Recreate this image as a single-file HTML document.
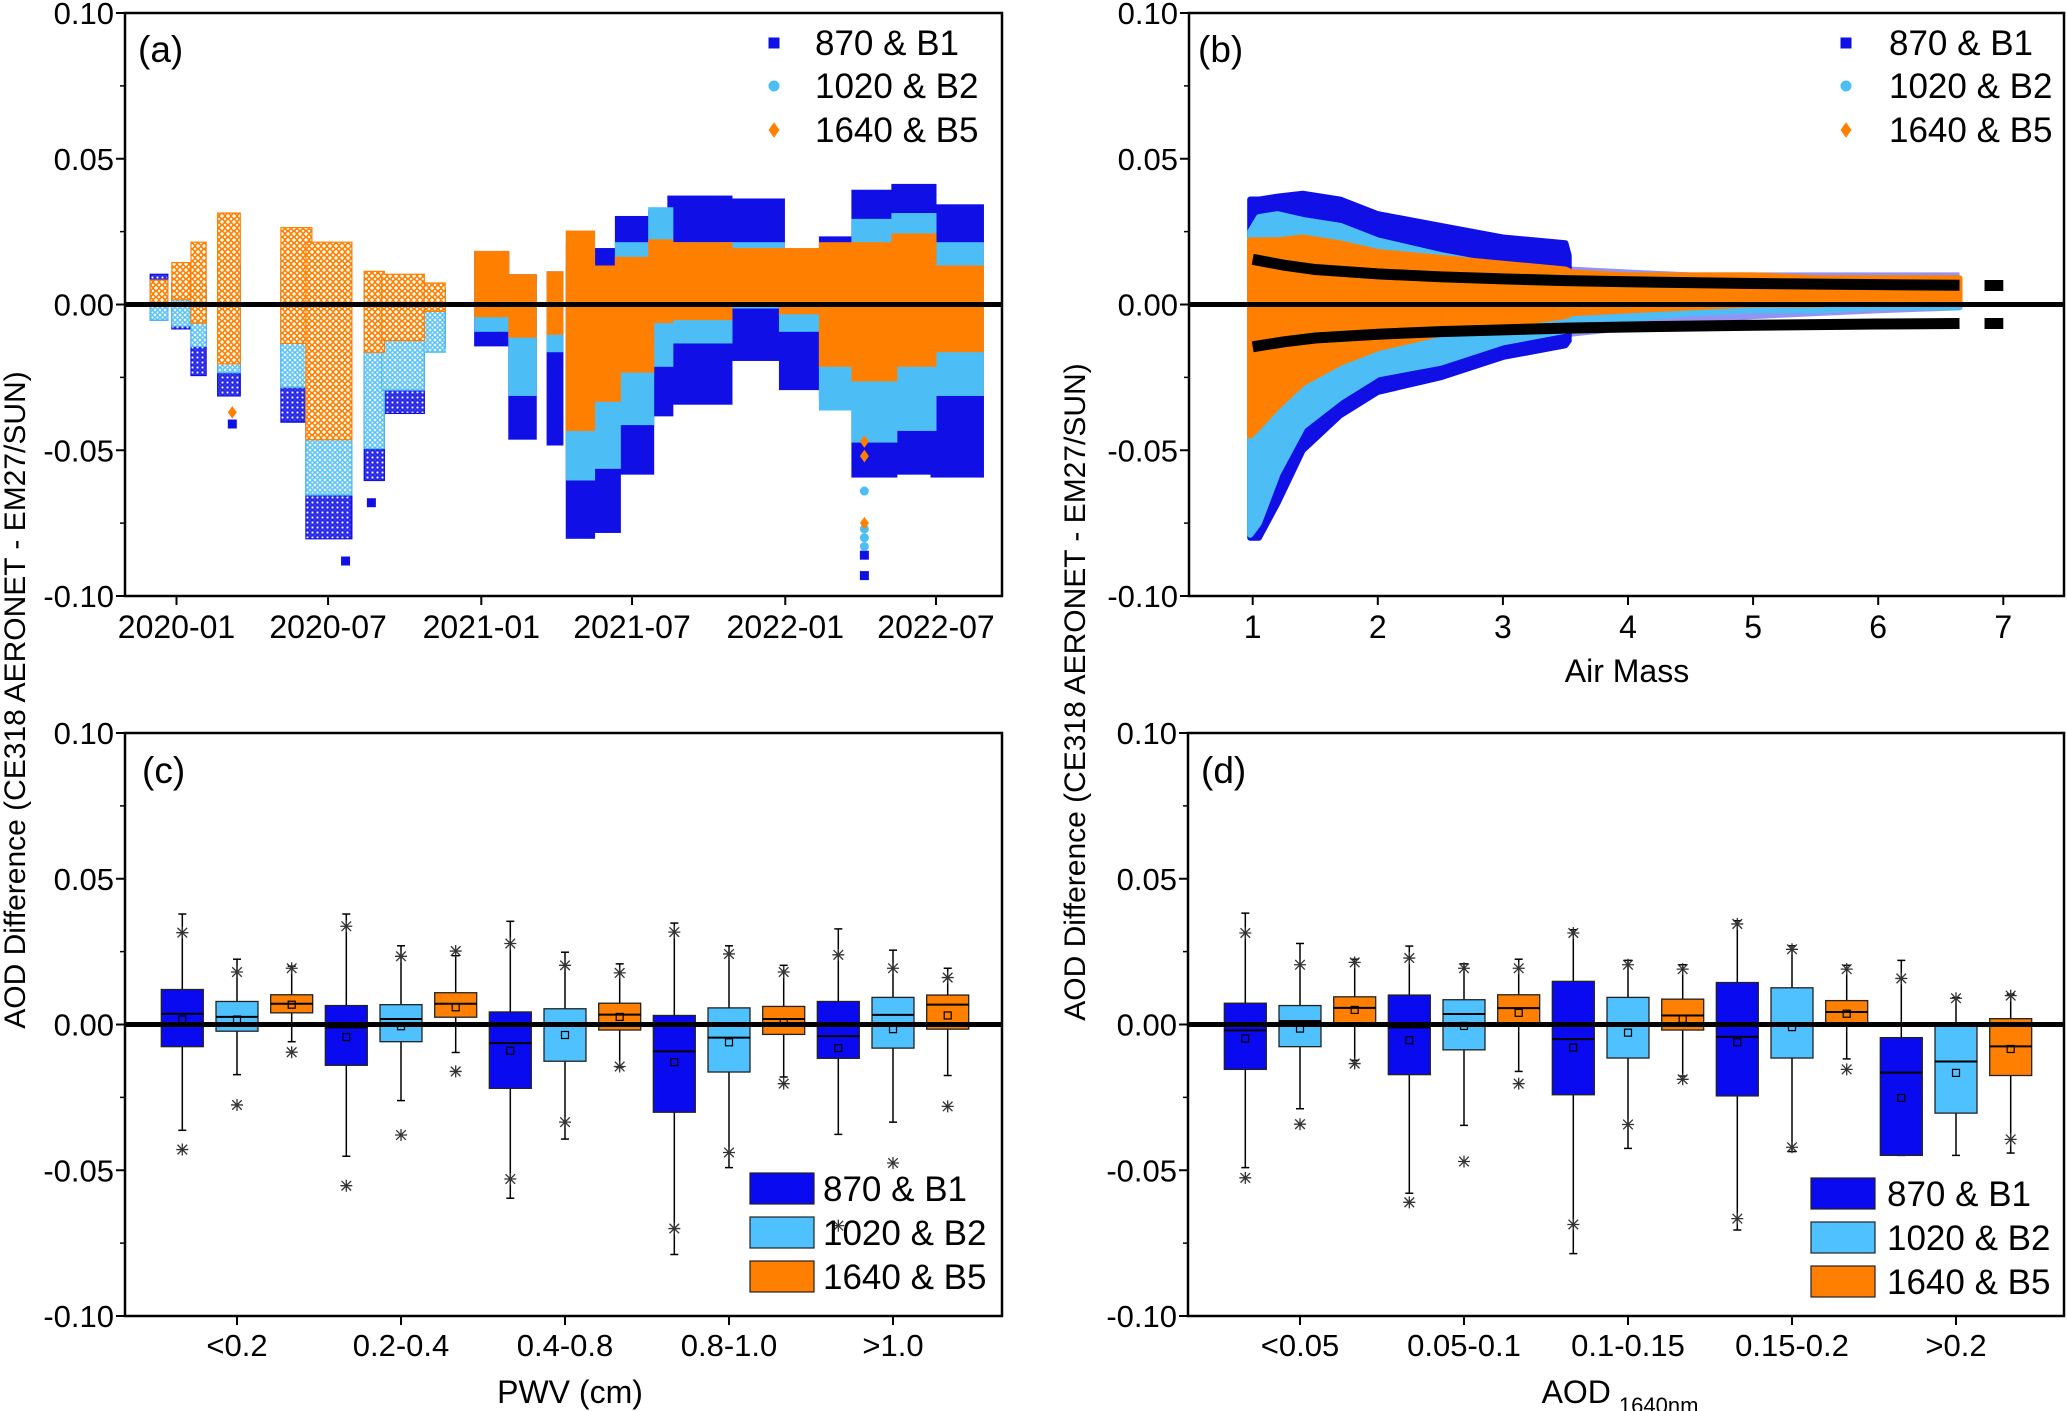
<!DOCTYPE html>
<html><head><meta charset="utf-8"><style>
html,body{margin:0;padding:0;background:#fff;}
svg{display:block;font-family:"Liberation Sans",Arial,sans-serif;}
</style></head><body>
<svg id="fig" width="2067" height="1411" viewBox="0 0 2067 1411" xmlns="http://www.w3.org/2000/svg">
<defs>
<pattern id="patBlue" width="5" height="5" patternUnits="userSpaceOnUse"><rect x="0" y="0" width="5" height="5" fill="#fff"/><rect x="0.8" y="0.8" width="3.4" height="3.4" fill="none" stroke="#1010e6" stroke-width="1.4"/></pattern>
<pattern id="patLight" width="5" height="5" patternUnits="userSpaceOnUse"><rect x="0" y="0" width="5" height="5" fill="#fff"/><circle cx="2.5" cy="2.5" r="1.8" fill="none" stroke="#4dbef5" stroke-width="1.4"/></pattern>
<pattern id="patOrange" width="6" height="6" patternUnits="userSpaceOnUse"><rect x="0" y="0" width="6" height="6" fill="#fff"/><path d="M3 0.3 L5.7 3 L3 5.7 L0.3 3 Z" fill="none" stroke="#ff8000" stroke-width="1.6"/></pattern>
</defs>
<text x="17" y="700" transform="rotate(-90 17 700)" text-anchor="middle" dominant-baseline="middle" font-size="30" fill="#000">AOD Difference (CE318 AERONET - EM27/SUN)</text>
<text x="1077" y="692" transform="rotate(-90 1077 692)" text-anchor="middle" dominant-baseline="middle" font-size="30" fill="#000">AOD Difference (CE318 AERONET - EM27/SUN)</text>
</svg>
<script>
// ---------- Panel (a) data: time bins with low/high envelopes ----------
const binStart = ["2019-12-04","2019-12-30","2020-01-22","2020-02-23","2020-05-09","2020-06-08","2020-08-17","2020-09-07","2020-10-28","2020-12-27","2021-02-06","2021-03-24","2021-04-16","2021-05-14","2021-06-14","2021-07-24","2021-08-16","2021-10-26","2021-12-28","2022-02-14","2022-03-25","2022-05-12","2022-06-28"];
const binEnd   = ["2019-12-18","2020-01-14","2020-02-02","2020-03-14","2020-06-08","2020-07-26","2020-09-03","2020-10-21","2020-11-15","2021-01-31","2021-03-05","2021-04-06","2021-05-14","2021-06-14","2021-07-24","2021-08-16","2021-10-26","2021-12-28","2022-02-14","2022-03-25","2022-05-12","2022-06-28","2022-08-24"];
const binOpen  = [1,1,1,1,1,1,1,1,1,0,0,0,0,0,0,0,0,0,0,0,0,0,0];
const blueLoA  = [-0.004,-0.007,-0.023,-0.030,-0.039,-0.079,-0.059,-0.036,-0.013,-0.013,-0.045,-0.047,-0.079,-0.077,-0.057,-0.037,-0.033,-0.018,-0.028,-0.031,-0.058,-0.057,-0.058];
const blueHiA  = [0.009,0.006,0.005,0.012,0.018,0.012,0.008,0.006,0.004,0.017,0.009,0.010,0.012,0.018,0.029,0.031,0.036,0.035,0.013,0.022,0.038,0.040,0.033];
const lightLoA = [-0.004,-0.006,-0.013,-0.022,-0.027,-0.064,-0.048,-0.028,-0.015,-0.008,-0.030,-0.015,-0.059,-0.055,-0.040,-0.020,-0.012,0.000,-0.008,-0.035,-0.046,-0.042,-0.030];
const lightHiA = [0.005,0.004,0.005,0.010,0.012,0.012,0.008,0.006,0.004,0.014,0.006,0.005,0.020,0.010,0.020,0.032,0.020,0.020,0.017,0.018,0.028,0.030,0.020];
const orangeLoA= [0.001,0.003,-0.005,-0.019,-0.012,-0.045,-0.015,-0.011,-0.001,-0.003,-0.010,-0.009,-0.042,-0.032,-0.022,-0.005,-0.004,0.002,-0.002,-0.020,-0.025,-0.020,-0.015];
const orangeHiA= [0.007,0.013,0.020,0.030,0.025,0.020,0.010,0.009,0.006,0.017,0.009,0.010,0.024,0.012,0.015,0.021,0.020,0.018,0.018,0.020,0.020,0.023,0.012];
const outDates = ["2020-03-08","2020-03-08","2020-07-22","2020-08-22","2022-04-06","2022-04-06","2022-04-06","2022-04-06","2022-04-06","2022-04-06","2022-04-06","2022-04-06","2022-04-06"];
const outVals  = [-0.037,-0.041,-0.088,-0.068,-0.093,-0.086,-0.083,-0.080,-0.077,-0.064,-0.075,-0.052,-0.047];
const outSer   = ["o","b","b","b","b","b","l","l","l","l","o","o","o"];
const dateTicks = ["2020-01-01","2020-07-01","2021-01-01","2021-07-01","2022-01-01","2022-07-01"];
const dateTickLabels = ["2020-01","2020-07","2021-01","2021-07","2022-01","2022-07"];
// ---------- Panel (b) data ----------
const amBins   = [0.98,1.05,1.2,1.4,1.7,2.0,2.5,3.0,3.5,3.55,4,4.5,5,5.5,6,6.65];
const blueHiB  = [0.036,0.036,0.037,0.038,0.036,0.031,0.027,0.023,0.021,0.013,0.012,0.011,0.011,0.011,0.011,0.011];
const blueLoB  = [-0.080,-0.080,-0.068,-0.050,-0.038,-0.030,-0.025,-0.018,-0.014,-0.011,-0.009,-0.007,-0.005,-0.004,-0.003,-0.002];
const lightHiB = [0.025,0.030,0.031,0.029,0.027,0.022,0.017,0.013,0.011,0.009,0.008,0.007,0.007,0.006,0.006,0.006];
const lightLoB = [-0.079,-0.075,-0.058,-0.042,-0.032,-0.024,-0.020,-0.013,-0.009,-0.007,-0.005,-0.003,-0.002,-0.002,-0.001,-0.001];
const orangeHiB= [0.022,0.022,0.022,0.023,0.021,0.018,0.016,0.014,0.012,0.011,0.010,0.010,0.010,0.009,0.009,0.009];
const orangeLoB= [-0.045,-0.042,-0.035,-0.027,-0.020,-0.015,-0.010,-0.007,-0.004,-0.003,-0.002,-0.001,0.000,0.000,0.001,0.001];
const uncAM    = [1,1.25,1.5,2,2.5,3,3.5,4,5,6,6.65];
const uncUp    = [0.0155,0.0135,0.012,0.0105,0.0095,0.0088,0.0082,0.0078,0.0072,0.0068,0.0066];
const uncDn    = [-0.0145,-0.0128,-0.0115,-0.0102,-0.0093,-0.0087,-0.0081,-0.0077,-0.0071,-0.0067,-0.0065];
const uncAM2   = [6.85,7.0];
const uncUp2   = [0.0065,0.0065];
const uncDn2   = [-0.0065,-0.0065];
const amTicks  = [1,2,3,4,5,6,7];
// ---------- Panel (c) data: [whiskerLo, q1, median, q3, whiskerHi, mean, starHi, starLo] ----------
const pwvCats = ["<0.2","0.2-0.4","0.4-0.8","0.8-1.0",">1.0"];
const pwvBlue = [[-0.0363,-0.0076,0.0037,0.012,0.0379,0.0017,0.0315,-0.0429],[-0.0452,-0.014,-0.001,0.0065,0.0379,-0.0043,0.0337,-0.0553],[-0.0596,-0.0219,-0.0064,0.0043,0.0354,-0.009,0.0278,-0.053],[-0.0789,-0.0301,-0.0092,0.0031,0.0348,-0.0129,0.0317,-0.070],[-0.0377,-0.0116,-0.004,0.0079,0.0328,-0.0081,0.0239,-0.069]];
const pwvLight= [[-0.0172,-0.0023,0.0026,0.0079,0.0224,0.0017,0.018,-0.0276],[-0.0261,-0.0059,0.0019,0.0068,0.027,-0.0006,0.0234,-0.0379],[-0.0393,-0.0126,0.0,0.0054,0.0248,-0.0036,0.0203,-0.0335],[-0.0491,-0.0163,-0.0045,0.0057,0.027,-0.0061,0.0242,-0.0439],[-0.0335,-0.0081,0.0033,0.0093,0.0255,-0.0016,0.0193,-0.0475]];
const pwvOrange=[[-0.0059,0.004,0.0071,0.0102,0.020,0.0068,0.0193,-0.0095],[-0.0096,0.0025,0.0071,0.0109,0.0236,0.0059,0.0252,-0.0161],[-0.0146,-0.0019,0.0034,0.0073,0.0208,0.0026,0.0177,-0.0144],[-0.018,-0.0034,0.0019,0.0062,0.0203,0.0006,0.018,-0.0203],[-0.0175,-0.0016,0.0068,0.0101,0.0193,0.0031,0.0161,-0.0281]];
// ---------- Panel (d) data ----------
const aodCats = ["<0.05","0.05-0.1","0.1-0.15","0.15-0.2",">0.2"];
const aodBlue = [[-0.0491,-0.0154,-0.002,0.0073,0.0382,-0.0048,0.0314,-0.0526],[-0.0579,-0.0172,-0.001,0.0101,0.0269,-0.0054,0.0228,-0.061],[-0.0786,-0.0241,-0.005,0.0148,0.0325,-0.0079,0.0314,-0.0686],[-0.0705,-0.0245,-0.0042,0.0144,0.0356,-0.0061,0.0345,-0.0666],[-0.0449,-0.0449,-0.0165,-0.0045,0.022,-0.0252,0.0158,null]];
const aodLight= [[-0.0289,-0.0076,0.0012,0.0065,0.0278,-0.0014,0.0205,-0.0342],[-0.0346,-0.0087,0.0036,0.0085,0.0208,-0.0005,0.0193,-0.047],[-0.0425,-0.0115,0.0,0.0093,0.022,-0.0028,0.0205,-0.0343],[-0.0436,-0.0115,0.0,0.0126,0.027,-0.0009,0.0258,-0.0421],[-0.0449,-0.0304,-0.0127,0.0,0.0092,-0.0166,0.009,null]];
const aodOrange=[[-0.0123,0.0006,0.0057,0.0095,0.0224,0.005,0.0213,-0.0134],[-0.0161,0.0003,0.0056,0.0102,0.0224,0.004,0.0193,-0.0203],[-0.0177,-0.0019,0.0031,0.0087,0.0205,0.0019,0.019,-0.0188],[-0.0118,0.0,0.0043,0.0082,0.0203,0.0037,0.019,-0.0154],[-0.0441,-0.0175,-0.0075,0.002,0.0104,-0.0084,0.0099,-0.0394]];
const yTicks = [0.10,0.05,0.00,-0.05,-0.10];
const yTickLabels = ["0.10","0.05","0.00","-0.05","-0.10"];
const legendLabels = ["870 & B1","1020 & B2","1640 & B5"];

const NS="http://www.w3.org/2000/svg";
const svg=document.getElementById('fig');
const BLUE="#1010e6", LIGHT="#4dbef5", ORANGE="#ff8000";
const BBLUE="#0a0af0", BLIGHT="#4fc1ff", BORANGE="#ff7f00";
function mk(tag, attrs, parent){const e=document.createElementNS(NS,tag);for(const k in attrs)e.setAttribute(k,attrs[k]);(parent||svg).appendChild(e);return e;}
function lin(d0,d1,r0,r1){return v=>r0+(v-d0)/(d1-d0)*(r1-r0);}
function grp(name){const g=mk('g',{});


return g;}

const P={
 a:{L:125,R:1002,T:13,B:596},
 b:{L:1189,R:2064,T:13,B:596},
 c:{L:125,R:1002,T:733,B:1316},
 d:{L:1188,R:2064,T:733,B:1316}
};
for(const k in P){P[k].y=lin(-0.1,0.1,P[k].B,P[k].T);}
P.a.x=lin(Date.parse("2020-01-01"),Date.parse("2022-07-01"),176.5,936);
P.b.x=lin(1,7,1252.7,2003.3);
P.c.x=lin(1,5,237,893);
P.d.x=lin(1,5,1300,1956);

function frame(p,name,label,lx,ly){
  const g=grp(name+'-axes');
  yTicks.forEach((v,i)=>{
    const y=p.y(v);
    mk('line',{x1:p.L-9,x2:p.L,y1:y,y2:y,stroke:'#000','stroke-width':2},g);
    const t=mk('text',{x:p.L-11,y:y+11,'text-anchor':'end','font-size':31},g);
    t.textContent=yTickLabels[i];
    
    
  });
  [0.075,0.025,-0.025,-0.075].forEach(v=>{const y=p.y(v);mk('line',{x1:p.L-5,x2:p.L,y1:y,y2:y,stroke:'#000','stroke-width':1.5},g);});
  const lt=mk('text',{x:lx,y:ly,'font-size':37},g);
  lt.textContent=label;
  
  
  return g;
}
function border(p,name){
  const r=mk('rect',{x:p.L,y:p.T,width:p.R-p.L,height:p.B-p.T,fill:'none',stroke:'#000','stroke-width':2.5});
  
  
  const z=mk('line',{x1:p.L,x2:p.R,y1:p.y(0),y2:p.y(0),stroke:'#000','stroke-width':5});
  
  
}
function marker(shape,x,y,s,fill,parent){
  if(shape==='sq')return mk('rect',{x:x-s/2,y:y-s/2,width:s,height:s,fill:fill},parent);
  if(shape==='ci')return mk('circle',{cx:x,cy:y,r:s/2,fill:fill},parent);
  return mk('path',{d:`M${x} ${y-s*0.7}L${x+s/2} ${y}L${x} ${y+s*0.7}L${x-s/2} ${y}Z`,fill:fill},parent);
}
function scatterLegend(name,mx,tx,ys){
  const g=grp(name+'-legend');
  const shapes=['sq','ci','di'],cols=[BLUE,LIGHT,ORANGE];
  ys.forEach((y,i)=>{
    const m=marker(shapes[i],mx,y,11,cols[i],g);
    
    
    const t=mk('text',{x:tx,y:y+12,'font-size':35},g);
    t.textContent=legendLabels[i];
    
    
  });
}
function boxLegend(name,bx,tx,ys){
  const g=grp(name+'-legend');
  const cols=[BBLUE,BLIGHT,BORANGE];
  ys.forEach((y,i)=>{
    const r=mk('rect',{x:bx,y:y,width:64,height:31,fill:cols[i],stroke:'#222','stroke-width':1.2},g);
    
    
    const t=mk('text',{x:tx,y:y+28,'font-size':35},g);
    t.textContent=legendLabels[i];
    
    
  });
}

// ================= Panel (a) =================
(function(){
  const p=P.a;
  frame(p,'panel-a','(a)',138,62);
  const g=grp('panel-a-series');
  const sets=[[blueLoA,blueHiA,BLUE,'url(#patBlue)','series-870-b1'],[lightLoA,lightHiA,LIGHT,'url(#patLight)','series-1020-b2'],[orangeLoA,orangeHiA,ORANGE,'url(#patOrange)','series-1640-b5']];
  sets.forEach(s=>{
    binStart.forEach((d,i)=>{
      const x0=p.x(Date.parse(d))-3, x1=p.x(Date.parse(binEnd[i]))+3;
      const y0=p.y(s[1][i])-4, y1=p.y(s[0][i])+4;
      const r=mk('rect',{x:x0,y:y0,width:x1-x0,height:y1-y0,fill:binOpen[i]?s[3]:s[2],stroke:binOpen[i]?s[2]:'none','stroke-width':1.2},g);
      
      
    });
  });
  outDates.forEach((d,i)=>{
    const x=p.x(Date.parse(d)),y=p.y(outVals[i]);
    const sh=outSer[i]==='b'?'sq':outSer[i]==='l'?'ci':'di';
    const c=outSer[i]==='b'?BLUE:outSer[i]==='l'?LIGHT:ORANGE;
    const m=marker(sh,x,y,9,c,g);
    
    
  });
  border(p,'panel-a');
  const ga=grp('panel-a-x-axis');
  dateTicks.forEach((d,i)=>{
    const x=p.x(Date.parse(d));
    mk('line',{x1:x,x2:x,y1:p.B,y2:p.B+9,stroke:'#000','stroke-width':2},ga);
    const t=mk('text',{x:x,y:p.B+42,'text-anchor':'middle','font-size':32},ga);
    t.textContent=dateTickLabels[i];
    
    
  });
  scatterLegend('panel-a',774,815,[43,86,130]);
})();

// ================= Panel (b) =================
(function(){
  const p=P.b;
  frame(p,'panel-b','(b)',1198,62);
  const g=grp('panel-b-series');
  function band(lo,hi,col,name,op){
    let d='M'+amBins.map((a,i)=>p.x(a)+' '+p.y(hi[i])).join('L');
    for(let i=amBins.length-1;i>=0;i--)d+='L'+p.x(amBins[i])+' '+p.y(lo[i]);
    const e=mk('path',{d:d+'Z',fill:col,stroke:col,'stroke-width':6,'stroke-linejoin':'round','fill-opacity':op,'stroke-opacity':op},g);
    
    
  }
  // blue: solid below AM 3.55, lighter (sparse scatter) above
  const cut=p.x(3.55);
  const clipL=mk('clipPath',{id:'clipLow'});mk('rect',{x:0,y:0,width:cut,height:1411},clipL);
  const clipH=mk('clipPath',{id:'clipHigh'});mk('rect',{x:cut,y:0,width:2067,height:1411},clipH);
  const gl=mk('g',{'clip-path':'url(#clipLow)'},g);
  const gh=mk('g',{'clip-path':'url(#clipHigh)'},g);
  let d='M'+amBins.map((a,i)=>p.x(a)+' '+p.y(blueHiB[i])).join('L');
  for(let i=amBins.length-1;i>=0;i--)d+='L'+p.x(amBins[i])+' '+p.y(blueLoB[i]);
  const b1=mk('path',{d:d+'Z',fill:BLUE,stroke:BLUE,'stroke-width':6,'stroke-linejoin':'round'},gl);
  
  
  const b2=mk('path',{d:d+'Z',fill:BLUE,'fill-opacity':0.45},gh);
  
  
  band(lightLoB,lightHiB,LIGHT,'series-1020-b2-envelope',1);
  band(orangeLoB,orangeHiB,ORANGE,'series-1640-b5-envelope',1);
  function curve(xs,ys,name){
    const e=mk('polyline',{points:xs.map((a,i)=>p.x(a)+','+p.y(ys[i])).join(' '),fill:'none',stroke:'#000','stroke-width':11});
    
    
  }
  curve(uncAM,uncUp,'uncertainty-upper');
  curve(uncAM,uncDn,'uncertainty-lower');
  curve(uncAM2,uncUp2,'uncertainty-upper-tail');
  curve(uncAM2,uncDn2,'uncertainty-lower-tail');
  border(p,'panel-b');
  const ga=grp('panel-b-x-axis');
  amTicks.forEach(v=>{
    const x=p.x(v);
    mk('line',{x1:x,x2:x,y1:p.B,y2:p.B+9,stroke:'#000','stroke-width':2},ga);
    const t=mk('text',{x:x,y:p.B+42,'text-anchor':'middle','font-size':32},ga);
    t.textContent=String(v);
    
    
  });
  const tt=mk('text',{x:1627,y:682,'text-anchor':'middle','font-size':32},ga);
  tt.textContent='Air Mass';
  
  
  scatterLegend('panel-b',1846,1889,[43,86,130]);
})();

// ================= Box panels =================
function star(x,y,g){
  const s=6;
  mk('path',{d:`M${x} ${y-s}V${y+s}M${x-s} ${y}H${x+s}M${x-s*0.8} ${y-s*0.8}L${x+s*0.8} ${y+s*0.8}M${x-s*0.8} ${y+s*0.8}L${x+s*0.8} ${y-s*0.8}`,stroke:'#333','stroke-width':1.3,fill:'none'},g);
}
function boxPanel(p,name,label,lx,cats,series,titleMain,titleSub,titleX){
  frame(p,name,label,lx,783);
  const cols=[BBLUE,BLIGHT,BORANGE],offs=[-0.3335,0,0.3335],names=['box-870-b1','box-1020-b2','box-1640-b5'];
  const hw=0.128*164;
  series.forEach((ser,si)=>{
    ser.forEach((b,ci)=>{
      const g=grp(names[si]+'-'+ci);
      const x=p.x(ci+1+offs[si]);
      mk('line',{x1:x,x2:x,y1:p.y(b[0]),y2:p.y(b[4]),stroke:'#000','stroke-width':1.5},g);
      mk('line',{x1:x-4,x2:x+4,y1:p.y(b[0]),y2:p.y(b[0]),stroke:'#000','stroke-width':1.5},g);
      mk('line',{x1:x-4,x2:x+4,y1:p.y(b[4]),y2:p.y(b[4]),stroke:'#000','stroke-width':1.5},g);
      const r=mk('rect',{x:x-hw,y:p.y(b[3]),width:2*hw,height:Math.max(1,p.y(b[1])-p.y(b[3])),fill:cols[si],stroke:'#222','stroke-width':1.3},g);
      
      
      mk('line',{x1:x-hw,x2:x+hw,y1:p.y(b[2]),y2:p.y(b[2]),stroke:'#000','stroke-width':2},g);
      mk('rect',{x:x-3.5,y:p.y(b[5])-3.5,width:7,height:7,fill:'none',stroke:'#000','stroke-width':1.2},g);
      if(b[6]!==null)star(x,p.y(b[6]),g);
      if(b[7]!==null)star(x,p.y(b[7]),g);
    });
  });
  border(p,name);
  const ga=grp(name+'-x-axis');
  cats.forEach((c,i)=>{
    const x=p.x(i+1);
    mk('line',{x1:x,x2:x,y1:p.B,y2:p.B+9,stroke:'#000','stroke-width':2},ga);
    const t=mk('text',{x:x,y:p.B+40,'text-anchor':'middle','font-size':31},ga);
    t.textContent=c;
    
    
  });
  const tt=mk('text',{x:titleX,y:1403,'text-anchor':'middle','font-size':32},ga);
  tt.textContent=titleMain;
  if(titleSub){const ts=document.createElementNS(NS,'tspan');ts.setAttribute('font-size','22');ts.setAttribute('dy','10');ts.setAttribute('dx','8');ts.textContent=titleSub;tt.appendChild(ts);}
  
  
}
boxPanel(P.c,'panel-c','(c)',142,pwvCats,[pwvBlue,pwvLight,pwvOrange],'PWV (cm)',null,570);
boxLegend('panel-c',750,823,[1173,1217,1261]);
boxPanel(P.d,'panel-d','(d)',1201,aodCats,[aodBlue,aodLight,aodOrange],'AOD','1640nm',1620);
boxLegend('panel-d',1811,1887,[1178,1222,1266]);
</script>
</body></html>
